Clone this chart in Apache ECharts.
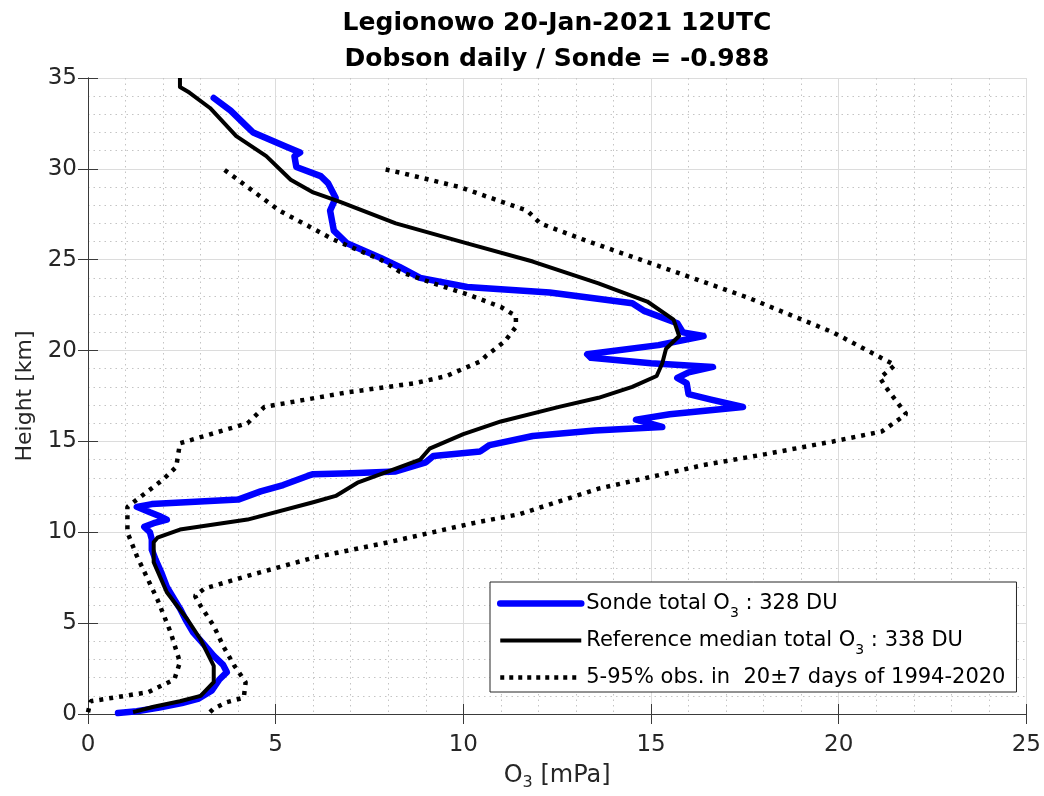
<!DOCTYPE html>
<html>
<head>
<meta charset="utf-8">
<title>Legionowo ozone profile</title>
<script src="https://cdn.jsdelivr.net/npm/echarts@6/dist/echarts.min.js"></script>
<style>
  html, body { margin: 0; padding: 0; background: #ffffff; }
  #chart { width: 1044px; height: 796px; }
</style>
</head>
<body>
<div id="chart"></div>
<script>
// Ozone partial pressure [mPa] against height [km]
const sondeO3 = [0.8, 1.3, 1.9, 2.5, 2.95, 3.3, 3.5, 3.7, 3.6, 3.35, 3.1, 2.8, 2.6, 2.45, 2.3, 2.1, 1.95, 1.8, 1.7, 1.7, 1.65, 1.5, 1.75, 2.1, 1.9, 1.65, 1.3, 1.7, 2.6, 4.0, 4.6, 5.2, 5.85, 6.0, 7.0, 8.2, 9.0, 9.2, 10.45, 10.7, 11.85, 13.5, 15.3, 14.6, 15.5, 17.45, 16.6, 16.0, 15.95, 15.7, 16.0, 16.65, 15.0, 13.4, 13.3, 15.2, 16.4, 15.85, 15.7, 14.8, 14.5, 12.3, 10.1, 8.85, 8.3, 7.8, 6.9, 6.55, 6.45, 6.6, 6.4, 6.2, 5.55, 5.5, 5.65, 5.3, 4.4, 4.25, 3.8, 3.35];
const sondeHeight = [0.05, 0.15, 0.35, 0.6, 0.85, 1.3, 1.9, 2.3, 2.7, 3.2, 3.8, 4.5, 5.2, 5.8, 6.3, 7.0, 7.8, 8.5, 9.05, 9.6, 10.0, 10.3, 10.5, 10.7, 10.9, 11.1, 11.4, 11.55, 11.65, 11.8, 12.25, 12.6, 13.1, 13.2, 13.25, 13.35, 13.85, 14.2, 14.45, 14.8, 15.3, 15.6, 15.8, 16.2, 16.5, 16.9, 17.3, 17.6, 18.2, 18.5, 18.8, 19.1, 19.3, 19.6, 19.8, 20.3, 20.8, 21.0, 21.5, 22.2, 22.6, 23.2, 23.5, 24.0, 24.6, 25.1, 25.9, 26.6, 27.7, 28.4, 29.2, 29.6, 30.1, 30.7, 30.9, 31.2, 32.0, 32.3, 33.2, 33.9];

const medianO3 = [1.2, 1.75, 2.45, 3.0, 3.35, 3.35, 3.0, 2.65, 2.1, 1.75, 1.75, 1.85, 2.45, 4.25, 6.0, 6.6, 7.2, 8.2, 8.85, 9.1, 10.0, 11.0, 12.55, 13.6, 14.5, 15.15, 15.3, 15.4, 15.75, 15.6, 14.9, 13.6, 11.85, 10.1, 8.2, 6.7, 6.0, 5.4, 4.75, 3.95, 3.25, 2.7, 2.45, 2.45];
const medianHeight = [0.1, 0.4, 0.7, 1.0, 1.75, 2.65, 4.1, 5.2, 6.7, 8.35, 9.45, 9.7, 10.15, 10.7, 11.65, 12.0, 12.75, 13.5, 14.0, 14.6, 15.4, 16.1, 16.9, 17.4, 18.0, 18.6, 19.3, 20.1, 20.8, 21.7, 22.7, 23.7, 24.9, 25.9, 27.0, 28.2, 28.7, 29.4, 30.7, 31.8, 33.35, 34.2, 34.5, 35.0];

const p05O3 = [0.0, 0.07, 1.6, 2.3, 2.45, 2.2, 1.85, 1.3, 1.05, 1.05, 2.0, 2.35, 2.45, 4.25, 4.7, 6.9, 8.7, 9.55, 10.45, 10.6, 11.1, 11.4, 11.4, 11.0, 10.1, 9.2, 8.3, 7.8, 6.55, 5.1, 3.6];
const p05Height = [0.1, 0.7, 1.2, 1.9, 2.85, 4.5, 6.3, 8.7, 10.0, 11.4, 12.9, 13.6, 14.9, 16.0, 16.9, 17.7, 18.2, 18.6, 19.4, 19.7, 20.5, 21.3, 21.9, 22.4, 23.1, 23.7, 24.35, 25.0, 26.1, 27.7, 30.0];

const p95O3 = [3.25, 3.35, 3.7, 4.15, 4.2, 3.9, 3.6, 3.35, 3.0, 2.85, 3.1, 4.25, 6.0, 8.0, 10.25, 11.5, 13.6, 16.4, 18.05, 19.85, 21.15, 21.8, 21.25, 21.1, 21.5, 19.85, 17.6, 15.0, 13.2, 12.05, 11.7, 9.9, 8.3, 7.85];
const p95Height = [0.1, 0.3, 0.65, 0.9, 1.75, 2.65, 3.75, 4.85, 5.95, 6.5, 6.9, 7.6, 8.6, 9.45, 10.5, 11.0, 12.4, 13.7, 14.3, 15.0, 15.55, 16.5, 18.0, 18.5, 19.2, 21.0, 22.9, 24.8, 26.1, 27.0, 27.7, 29.0, 29.8, 30.0];

const seriesNames = [
  'Sonde total O3 : 328 DU',
  'Reference median total O3 : 338 DU',
  '5-95% obs. in  20±7 days of 1994-2020'
];
const xTicks = { min: 0, max: 25, step: 5 };
const yTicks = { min: 0, max: 35, step: 5 };
const titleLines = ['Legionowo 20-Jan-2021 12UTC', 'Dobson daily / Sonde = -0.988'];

const pairs = (xs, ys) => xs.map((v, i) => [v, ys[i]]);

const FONT = 'DejaVu Sans';
const INK = '#262626';
const AXIS_LINE = { show: true, lineStyle: { color: '#3a3a3a', width: 1 } };
const TICK = { show: true, inside: true, length: 10, lineStyle: { color: '#3a3a3a', width: 1 } };

const sondeStyle = { color: '#0000ff', width: 6.5 };
const medianStyle = { color: '#000000', width: 4 };
const rangeStyle = { color: '#000000', width: 4.5, type: [4, 6] };

function subscriptO3(name) {
  const i = name.indexOf('O3');
  if (i < 0) return '{a|' + name + '}';
  return '{a|' + name.slice(0, i + 1) + '}{s|3}{a|' + name.slice(i + 2) + '}';
}

const chart = echarts.init(document.getElementById('chart'), null, { renderer: 'canvas' });

const baseX = { type: 'value', min: xTicks.min, max: xTicks.max, interval: xTicks.step };
const baseY = { type: 'value', min: yTicks.min, max: yTicks.max, interval: yTicks.step };

chart.setOption({
  backgroundColor: '#ffffff',
  animation: false,
  graphic: titleLines.map((t, i) => ({
    type: 'text',
    x: 557, y: 23 + i * 36,
    style: {
      text: t, fill: '#000000',
      font: 'bold 25px "' + FONT + '"',
      textAlign: 'center', textVerticalAlign: 'middle'
    }
  })),
  grid: { left: 88, right: 17, top: 78, bottom: 81, containLabel: false },
  xAxis: [
    Object.assign({}, baseX, {
      position: 'bottom',
      name: '{a|O}{s|3}{a| [mPa]}',
      nameLocation: 'middle',
      nameGap: 47,
      nameTextStyle: {
        rich: {
          a: { fontFamily: FONT, fontSize: 24, color: INK, lineHeight: 30 },
          s: { fontFamily: FONT, fontSize: 16, color: INK, lineHeight: 14, verticalAlign: 'bottom' }
        }
      },
      axisLine: AXIS_LINE,
      axisTick: TICK,
      axisLabel: { fontFamily: FONT, fontSize: 23, color: INK, margin: 20 },
      splitLine: { show: true, lineStyle: { color: '#dcdcdc', width: 1 } },
      minorTick: { show: false, splitNumber: 5 },
      minorSplitLine: { show: true, lineStyle: { color: '#c4c4c4', width: 1, type: [1.5, 4] } }
    }),
    Object.assign({}, baseX, {
      position: 'top',
      axisLine: AXIS_LINE,
      axisTick: TICK,
      axisLabel: { show: false },
      splitLine: { show: false }
    })
  ],
  yAxis: [
    Object.assign({}, baseY, {
      position: 'left',
      name: 'Height [km]',
      nameLocation: 'middle',
      nameRotate: 90,
      nameGap: 52,
      nameTextStyle: { fontFamily: FONT, fontSize: 22, color: INK },
      axisLine: AXIS_LINE,
      axisTick: TICK,
      axisLabel: { fontFamily: FONT, fontSize: 23, color: INK, margin: 11 },
      splitLine: { show: true, lineStyle: { color: '#dcdcdc', width: 1 } },
      minorTick: { show: false, splitNumber: 5 },
      minorSplitLine: { show: true, lineStyle: { color: '#c4c4c4', width: 1, type: [1.5, 4] } }
    }),
    Object.assign({}, baseY, {
      position: 'right',
      axisLine: AXIS_LINE,
      axisTick: TICK,
      axisLabel: { show: false },
      splitLine: { show: false }
    })
  ],
  legend: {
    orient: 'vertical',
    left: 490, top: 582,
    padding: [11, 11, 4, 7],
    itemGap: 10,
    itemWidth: 81,
    itemHeight: 14,
    selectedMode: false,
    backgroundColor: '#ffffff',
    borderColor: '#262626',
    borderWidth: 1,
    itemStyle: { color: 'rgba(0,0,0,0)', borderColor: 'rgba(0,0,0,0)', borderWidth: 0 },
    data: [
      { name: seriesNames[0], lineStyle: sondeStyle },
      { name: seriesNames[1], lineStyle: medianStyle },
      { name: seriesNames[2], lineStyle: { color: '#000000', width: 4.5, type: [4, 5] } }
    ],
    formatter: subscriptO3,
    textStyle: {
      rich: {
        a: { fontFamily: FONT, fontSize: 21, color: '#000000', lineHeight: 33 },
        s: { fontFamily: FONT, fontSize: 14, color: '#000000', lineHeight: 14, verticalAlign: 'bottom' }
      }
    }
  },
  series: [
    {
      name: seriesNames[0], type: 'line', xAxisIndex: 0, yAxisIndex: 0,
      data: pairs(sondeO3, sondeHeight),
      symbol: 'none', z: 2,
      lineStyle: Object.assign({ cap: 'round', join: 'round' }, sondeStyle),
      itemStyle: { color: '#0000ff' }
    },
    {
      name: seriesNames[1], type: 'line', xAxisIndex: 0, yAxisIndex: 0,
      data: pairs(medianO3, medianHeight),
      symbol: 'none', z: 3,
      lineStyle: Object.assign({ join: 'round' }, medianStyle),
      itemStyle: { color: '#000000' }
    },
    {
      name: seriesNames[2], type: 'line', xAxisIndex: 0, yAxisIndex: 0,
      data: pairs(p05O3, p05Height),
      symbol: 'none', z: 4,
      lineStyle: rangeStyle,
      itemStyle: { color: '#000000' }
    },
    {
      name: seriesNames[2], type: 'line', xAxisIndex: 0, yAxisIndex: 0,
      data: pairs(p95O3, p95Height),
      symbol: 'none', z: 4,
      lineStyle: rangeStyle,
      itemStyle: { color: '#000000' }
    }
  ]
});
</script>
</body>
</html>
